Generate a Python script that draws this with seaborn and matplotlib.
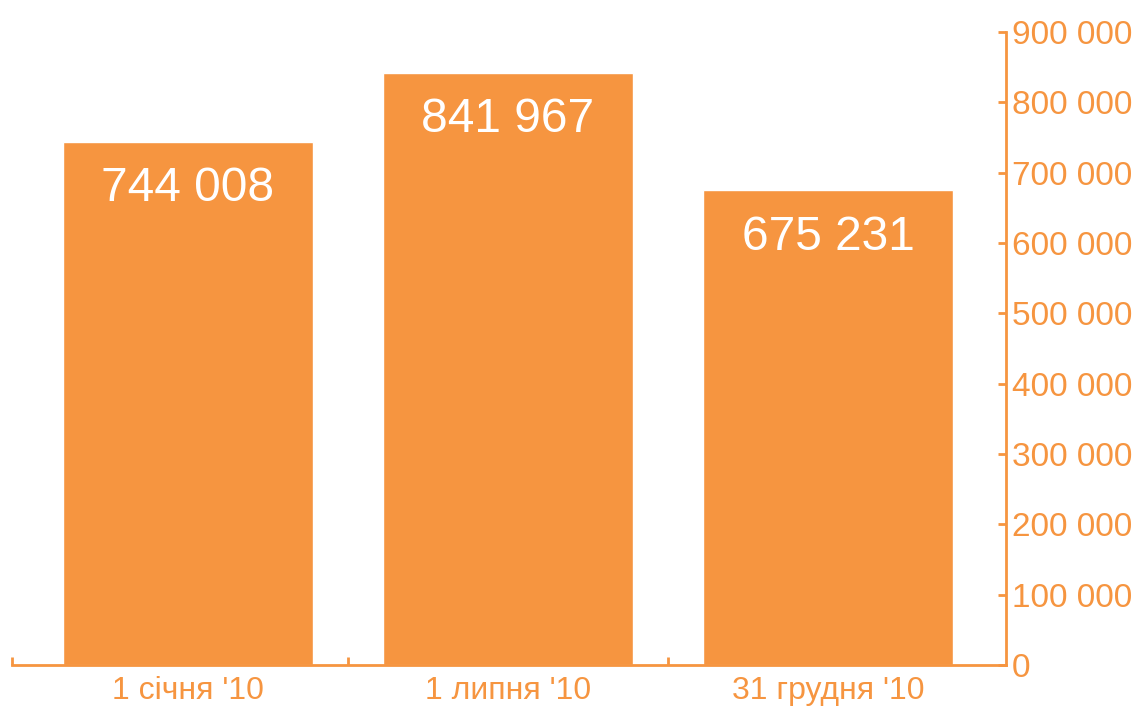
import pandas as pd
import matplotlib.pyplot as plt
import seaborn as sns
from matplotlib.ticker import FuncFormatter, FixedLocator

# Data
dates = ["1 січня '10", "1 липня '10", "31 грудня '10"]
values = [744008, 841967, 675231]
y_ticks = [0, 100000, 200000, 300000, 400000, 500000, 600000, 700000, 800000, 900000]

orange = "#F69540"

df = pd.DataFrame({"date": dates, "value": values})

sns.set_theme(style="white")
plt.rcParams["font.family"] = ["Liberation Sans", "DejaVu Sans"]

fig = plt.figure(figsize=(11.36, 7.09), dpi=100)
ax = fig.add_axes([12 / 1136, 44 / 709, (1006 - 12) / 1136, (665 - 32) / 709])

sns.barplot(data=df, x="date", y="value", color=orange, saturation=1,
            width=0.78, ax=ax)

# value labels inside bars
labels = [f"{v:,}".replace(",", " ") for v in values]
ax.bar_label(ax.containers[0], labels=labels, padding=-50, color="white",
             fontsize=34.5)

ax.set_xlim(-0.55, 2.556)
ax.set_ylim(0, 900000)
ax.set_xlabel("")
ax.set_ylabel("")

# right-hand y axis
ax.yaxis.tick_right()
ax.set_yticks(y_ticks)
ax.yaxis.set_major_formatter(FuncFormatter(lambda v, p: f"{int(v):,}".replace(",", " ")))
ax.tick_params(axis="y", direction="in", length=6, width=2, color=orange,
               labelcolor=orange, labelsize=24, pad=4)

# x ticks: labels centred, tick marks on category boundaries
ax.tick_params(axis="x", which="major", length=0, labelcolor=orange,
               labelsize=23, pad=8)
ax.xaxis.set_minor_locator(FixedLocator([-0.55, 0.5, 1.5]))
ax.tick_params(axis="x", which="minor", direction="in", length=6, width=2,
               color=orange, bottom=True)

for side in ["top", "left"]:
    ax.spines[side].set_visible(False)
for side in ["bottom", "right"]:
    ax.spines[side].set_color(orange)
    ax.spines[side].set_linewidth(2)

fig.savefig("out.png", dpi=100)
